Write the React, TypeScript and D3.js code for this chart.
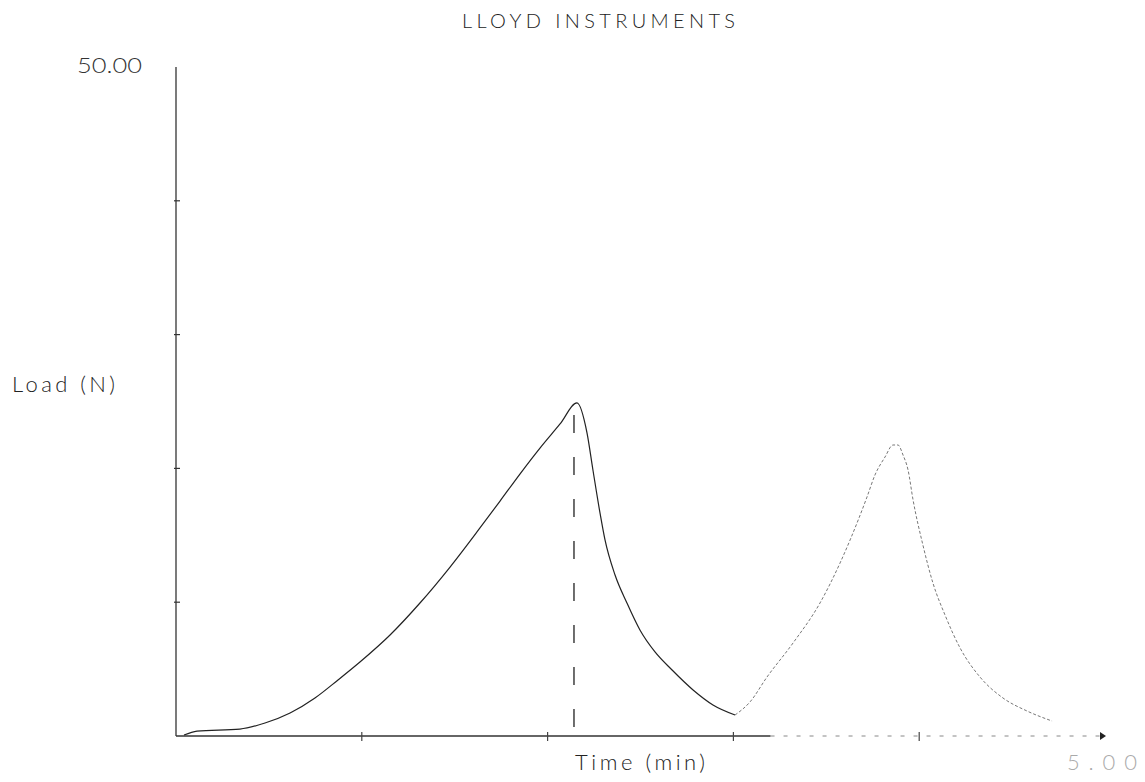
import React from "react";
import * as d3 from "d3";

// Load vs. time trace from a Lloyd Instruments tester
const timeMin = [0.043, 0.113, 0.344, 0.479, 0.614, 0.748, 0.872, 0.99, 1.152, 1.313, 1.475, 1.636, 1.744, 1.851, 1.959, 2.067, 2.158,
  2.212, 2.244, 2.282, 2.309, 2.363, 2.427, 2.497, 2.578, 2.67, 2.783, 2.89, 3.009];
const loadN = [0.07, 0.37, 0.52, 0.97, 1.72, 2.84, 4.19, 5.53, 7.55, 9.94, 12.63, 15.55, 17.56, 19.58, 21.52, 23.32, 24.89,
  22.65, 19.88, 16.67, 14.65, 12.03, 9.94, 7.92, 6.28, 4.93, 3.44, 2.32, 1.57];
// Second loading cycle (plotted fainter)
const timeMin2 = [3.009, 3.089, 3.181, 3.321, 3.466, 3.574, 3.628, 3.719, 3.762, 3.816, 3.859, 3.886, 3.913, 3.94, 3.967, 4.02, 4.074,
  4.139, 4.22, 4.327, 4.451, 4.58, 4.715];
const loadN2 = [1.57, 2.54, 4.41, 6.95, 9.94, 12.93, 14.65, 17.86, 19.51, 20.85, 21.75, 21.75, 21.0, 19.88, 17.64, 14.27, 11.43,
  9.04, 6.58, 4.41, 2.84, 1.87, 1.12];

const peakTime = 2.142;
const xTicks = [1, 2, 3, 4];
const yTicks = [10, 20, 30, 40];
const title = "LLOYD INSTRUMENTS";
const yMaxLabel = "50.00";
const xMaxLabel = "5.00";
const yLabel = "Load (N)";
const xLabel = "Time (min)";

export default function App() {
  const W = 1145, H = 782;
  const x = d3.scaleLinear().domain([0, 5]).range([176, 1105]);
  const y = d3.scaleLinear().domain([0, 50]).range([736, 67]);
  const line = d3.line<[number, number]>().x(d => x(d[0])).y(d => y(d[1])).curve(d3.curveMonotoneX);
  const p1 = line(timeMin.map((t, i) => [t, loadN[i]] as [number, number])) || "";
  const p2 = line(timeMin2.map((t, i) => [t, loadN2[i]] as [number, number])) || "";
  const font = "Lato, 'Liberation Sans', sans-serif";
  const x0 = x(0), y0 = y(0);
  return (
    <svg width={W} height={H} style={{ position: "absolute", left: 0, top: 0, background: "#fff" }}>
      <text x={462} y={28} fontFamily={font} fontWeight={300} fontSize={20} fill="#222" textLength={273} lengthAdjust="spacing">{title}</text>
      {/* y axis */}
      <line x1={x0} x2={x0} y1={y(50)} y2={y0} stroke="#333" strokeWidth={1.3} />
      {yTicks.map(v => (
        <line key={v} x1={x0 - 2} x2={x0 + 4} y1={y(v)} y2={y(v)} stroke="#333" strokeWidth={1.2} />
      ))}
      {/* x axis: solid, then fading */}
      <line x1={x0} x2={x(3.2)} y1={y0} y2={y0} stroke="#333" strokeWidth={1.3} />
      <line x1={x(3.2)} x2={x(5) - 4} y1={y0} y2={y0} stroke="#888" strokeWidth={1} strokeDasharray="4,9" />
      {xTicks.map(v => (
        <line key={v} x1={x(v)} x2={x(v)} y1={y0 - 4} y2={y0 + 5} stroke="#444" strokeWidth={1.2} />
      ))}
      <path d={`M${x(5) - 5},${y0 - 4} L${x(5) + 1},${y0} L${x(5) - 5},${y0 + 4} Z`} fill="#222" />
      {/* peak marker */}
      <line x1={x(peakTime)} x2={x(peakTime)} y1={y(24.0)} y2={y0} stroke="#222" strokeWidth={1.3} strokeDasharray="18,24" />
      <path d={p1} fill="none" stroke="#222" strokeWidth={1.2} />
      <path d={p2} fill="none" stroke="#777" strokeWidth={1} strokeDasharray="3,2" />
      <text x={77} y={73} fontFamily={font} fontWeight={300} fontSize={22} fill="#333" textLength={65} lengthAdjust="spacingAndGlyphs">{yMaxLabel}</text>
      <text x={12} y={392} fontFamily={font} fontWeight={300} fontSize={22} fill="#222" textLength={103} lengthAdjust="spacing">{yLabel}</text>
      <text x={575} y={770} fontFamily={font} fontWeight={300} fontSize={22} fill="#222" textLength={130} lengthAdjust="spacing">{xLabel}</text>
      <text x={1067} y={770} fontFamily={font} fontWeight={300} fontSize={22} fill="#aaa" textLength={70} lengthAdjust="spacing">{xMaxLabel}</text>
    </svg>
  );
}
